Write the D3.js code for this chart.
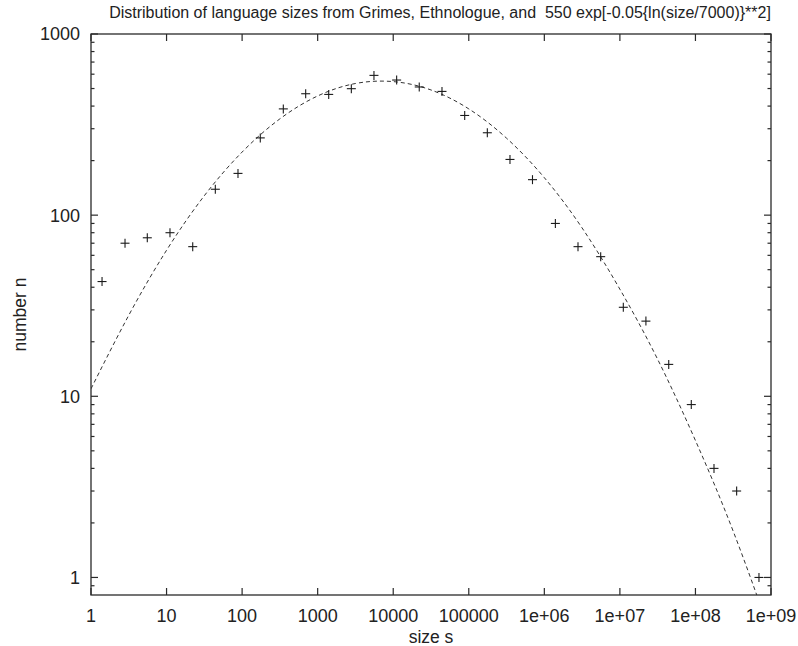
<!DOCTYPE html>
<html>
<head>
<meta charset="utf-8">
<script src="https://cdn.jsdelivr.net/npm/d3@7"></script>
<style>
  body { margin: 0; background: #fff; }
  text { font-family: "Liberation Sans", Arial, Helvetica, sans-serif; fill: #222; }
</style>
</head>
<body>
<svg id="chart"></svg>
<script>
// Language size distribution, log-log, points + dashed fit

const WIDTH = 798;
const HEIGHT = 646;
const LEFT = 91, RIGHT = 771, TOP = 34, BOTTOM = 595;

// measured points (size s, number n)
const sizes = [1.4, 2.82, 5.56, 11.1, 22.2, 44.2, 88.2, 174, 351, 694,
    1400, 2790, 5560, 11100, 22100, 44200, 88300, 176000, 351000, 697000,
    1.4e6, 2.79e6, 5.57e6, 1.11e7, 2.21e7, 4.43e7, 8.81e7, 1.76e8, 3.51e8, 6.93e8];
const counts = [43, 70, 75, 80, 67, 139, 170, 267, 386, 468,
    464, 499, 591, 557, 510, 482, 355, 285, 203, 157,
    90, 67, 59, 31, 26, 15, 9, 4, 3, 1];

// dashed fit curve, read at half-decade steps
const fitSizes = [1, 3.16, 10, 31.6, 100, 316, 1000, 3160, 1e4, 3.16e4,
    1e5, 3.16e5, 1e6, 3.16e6, 1e7, 3.16e7, 1e8, 3.16e8, 1e9];
const fitCounts = [11, 28, 64, 128, 223, 340, 455, 533, 546, 491,
    386, 266, 161, 85, 39, 16, 5.7, 1.8, 0.48];

const xTicks = [1, 10, 100, 1000, 10000, 100000, 1e6, 1e7, 1e8, 1e9];
const xTickLabels = ["1", "10", "100", "1000", "10000", "100000", "1e+06", "1e+07", "1e+08", "1e+09"];
const yTicks = [1, 10, 100, 1000];
const yMinor = [0.9, 2, 3, 4, 5, 6, 7, 8, 9, 20, 30, 40, 50, 60, 70, 80, 90,
    200, 300, 400, 500, 600, 700, 800, 900];

const TITLE = "Distribution of language sizes from Grimes, Ethnologue, and  550 exp[-0.05{ln(size/7000)}**2]";

const svg = d3.select("#chart")
    .attr("width", WIDTH)
    .attr("height", HEIGHT);

const x = d3.scaleLog().domain([1, 1e9]).range([LEFT, RIGHT]);
const y = d3.scaleLog().domain([0.8, 1000]).range([BOTTOM, TOP]);

const ink = "#2a2a2a";

svg.append("clipPath").attr("id", "plot-clip")
    .append("rect")
    .attr("x", LEFT).attr("y", TOP)
    .attr("width", RIGHT - LEFT).attr("height", BOTTOM - TOP);

// Ticks (all point inward, mirrored on opposite side)
const tickG = svg.append("g").attr("stroke", ink).attr("stroke-width", 1.2);

xTicks.forEach(v => {
    tickG.append("line").attr("x1", x(v)).attr("x2", x(v)).attr("y1", BOTTOM).attr("y2", BOTTOM - 7);
    tickG.append("line").attr("x1", x(v)).attr("x2", x(v)).attr("y1", TOP).attr("y2", TOP + 7);
});
yTicks.forEach(v => {
    tickG.append("line").attr("x1", LEFT).attr("x2", LEFT + 7).attr("y1", y(v)).attr("y2", y(v));
    tickG.append("line").attr("x1", RIGHT).attr("x2", RIGHT - 7).attr("y1", y(v)).attr("y2", y(v));
});
yMinor.forEach(v => {
    tickG.append("line").attr("x1", LEFT).attr("x2", LEFT + 3.5).attr("y1", y(v)).attr("y2", y(v));
    tickG.append("line").attr("x1", RIGHT).attr("x2", RIGHT - 3.5).attr("y1", y(v)).attr("y2", y(v));
});

// Frame
svg.append("rect")
    .attr("x", LEFT).attr("y", TOP)
    .attr("width", RIGHT - LEFT).attr("height", BOTTOM - TOP)
    .attr("fill", "none")
    .attr("stroke", ink)
    .attr("stroke-width", 1.3);

// Tick labels
xTicks.forEach((v, i) => {
    svg.append("text")
        .attr("x", x(v)).attr("y", 622)
        .attr("text-anchor", "middle")
        .attr("font-size", "18px")
        .text(xTickLabels[i]);
});
yTicks.forEach(v => {
    svg.append("text")
        .attr("x", 80).attr("y", y(v))
        .attr("dy", "0.36em")
        .attr("text-anchor", "end")
        .attr("font-size", "18px")
        .text(String(v));
});

// Axis titles
svg.append("text")
    .attr("x", (LEFT + RIGHT) / 2).attr("y", 643)
    .attr("text-anchor", "middle")
    .attr("font-size", "17.5px")
    .text("size s");

svg.append("text")
    .attr("transform", `translate(26, ${(TOP + BOTTOM) / 2}) rotate(-90)`)
    .attr("text-anchor", "middle")
    .attr("font-size", "17.5px")
    .text("number n");

svg.append("text")
    .attr("x", 440).attr("y", 18)
    .attr("text-anchor", "middle")
    .attr("font-size", "16px")
    .style("white-space", "pre")
    .text(TITLE);

// Dashed fit curve
const fitLine = d3.line()
    .x(d => x(d[0]))
    .y(d => y(d[1]))
    .curve(d3.curveNatural);

svg.append("path")
    .attr("clip-path", "url(#plot-clip)")
    .attr("d", fitLine(fitSizes.map((s, i) => [s, fitCounts[i]])))
    .attr("fill", "none")
    .attr("stroke", "#333")
    .attr("stroke-width", 1)
    .attr("stroke-dasharray", "4,3");

// Plus markers
const pts = svg.append("g").attr("stroke", "#1a1a1a").attr("stroke-width", 1.1);
sizes.forEach((s, i) => {
    const px = x(s), py = y(counts[i]);
    pts.append("line").attr("x1", px - 4.5).attr("x2", px + 4.5).attr("y1", py).attr("y2", py);
    pts.append("line").attr("x1", px).attr("x2", px).attr("y1", py - 4.5).attr("y2", py + 4.5);
});
</script>
</body>
</html>
